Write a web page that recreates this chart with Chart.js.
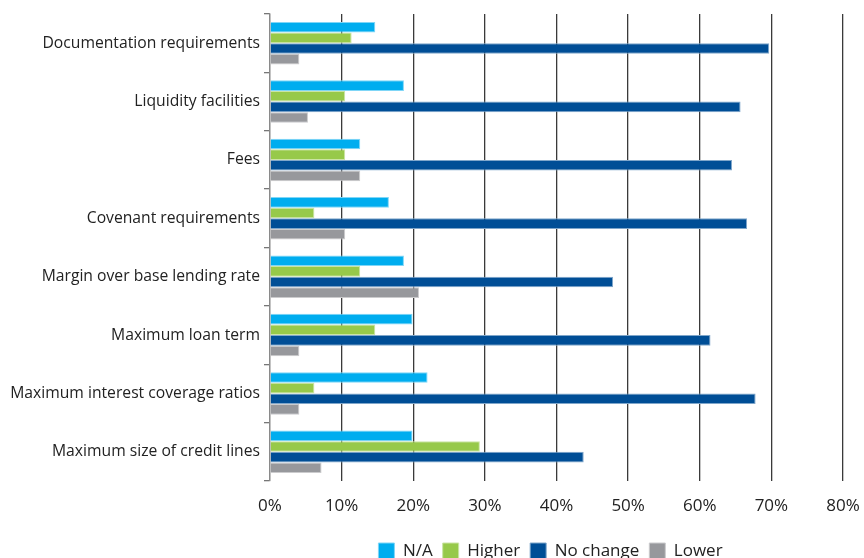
<!DOCTYPE html>
<html>
<head>
<meta charset="utf-8">
<script src="https://cdn.jsdelivr.net/npm/chart.js@4/dist/chart.umd.min.js"></script>
<style>
  html, body { margin: 0; padding: 0; background: #fff; }
  #wrap { width: 864px; height: 558px; position: relative; }
</style>
</head>
<body>
<div id="wrap"><canvas id="c" width="864" height="558"></canvas></div>
<script>
const categories = [
  "Documentation requirements",
  "Liquidity facilities",
  "Fees",
  "Covenant requirements",
  "Margin over base lending rate",
  "Maximum loan term",
  "Maximum interest coverage ratios",
  "Maximum size of credit lines"
];
const seriesNames = ["N/A", "Higher", "No change", "Lower"];
const naValues       = [14.7, 18.7, 12.6, 16.6, 18.7, 19.9, 22.0, 19.9];
const higherValues   = [11.4, 10.5, 10.5,  6.2, 12.6, 14.7,  6.2, 29.3];
const noChangeValues = [69.7, 65.7, 64.5, 66.6, 47.9, 61.5, 67.8, 43.8];
const lowerValues    = [ 4.1,  5.3, 12.6, 10.5, 20.8,  4.1,  4.1,  7.2];
const xTicks = [0, 10, 20, 30, 40, 50, 60, 70, 80];

const colors = ["#00adef", "#97c94a", "#004e96", "#97989c"];
const borders = ["#7fd6f7", "#cbe4a4", "#7fa6ca", "#cbcbcd"];
const values = [naValues, higherValues, noChangeValues, lowerValues];

const legendShift = {
  id: 'legendShift',
  afterLayout(chart) {
    const l = chart.legend;
    if (!l) return;
    const area = chart.chartArea;
    const target = (area.left + area.right) / 2 - 6;
    const cur = (l.left + l.right) / 2;
    const d = target - cur;
    l.left += d; l.right += d;
  }
};

const FONT = "'Open Sans', 'Noto Sans', sans-serif";

new Chart(document.getElementById('c'), {
  type: 'bar',
  data: {
    labels: categories,
    datasets: seriesNames.map((n, i) => ({
      label: n,
      data: values[i],
      backgroundColor: colors[i],
      borderColor: borders[i],
      borderWidth: 1,
      borderSkipped: 'start',
      categoryPercentage: 0.73,
      barPercentage: 1.0
    }))
  },
  options: {
    indexAxis: 'y',
    responsive: false,
    animation: false,
    devicePixelRatio: 1,
    layout: { padding: { top: 14, right: 21, left: 0, bottom: -11.5 } },
    plugins: {
      legend: {
        position: 'bottom',
        labels: {
          font: { family: FONT, size: 17 },
          color: '#222',
          boxWidth: 16,
          boxHeight: 16,
          padding: 10,
          useBorderRadius: false
        }
      },
      tooltip: { enabled: false }
    },
    scales: {
      x: {
        min: 0, max: 80,
        afterBuildTicks(scale) { scale.ticks = xTicks.map(v => ({ value: v })); },
        afterFit(scale) { scale.height = 51.5; },
        ticks: {
          callback: v => v + '%',
          font: { family: FONT, size: 17 },
          color: '#222',
          padding: 0,
          maxRotation: 0
        },
        grid: {
          color: ctx => ctx.index === 0 ? '#8a8a8a' : '#3a3a3a',
          lineWidth: 1.3,
          drawTicks: true,
          tickLength: 15,
          tickColor: 'rgba(0,0,0,0)'
        },
        border: { display: false }
      },
      y: {
        afterFit(scale) { scale.width = 270; },
        ticks: {
          font: { family: FONT, size: 15.7 },
          color: '#222',
          padding: 4
        },
        grid: {
          drawOnChartArea: false,
          drawTicks: true,
          tickLength: 6,
          color: '#777',
          lineWidth: 1.3,
          offset: true
        },
        border: { display: true, color: '#8a8a8a', width: 1.3 }
      }
    }
  },
  plugins: [legendShift]
});
</script>
</body>
</html>
